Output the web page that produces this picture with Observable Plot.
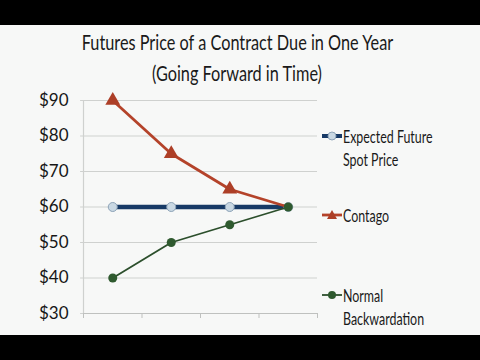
<!DOCTYPE html>
<html><head><meta charset="utf-8">
<script src="https://cdn.jsdelivr.net/npm/d3@7"></script>
<script src="https://cdn.jsdelivr.net/npm/@observablehq/plot@0.6"></script>
<style>
html,body{margin:0;padding:0;background:#000;width:480px;height:360px;overflow:hidden;}
#panel{position:absolute;left:0;top:25px;width:480px;height:310px;background:#f7f8f7;font-family:Lato,"Open Sans",sans-serif;color:#1a1a1a;}
.title{position:absolute;left:0;width:474px;text-align:center;font-size:22px;line-height:26px;white-space:nowrap;}
.title span{display:inline-block;transform:scaleX(0.74);transform-origin:center;}
#chart{position:absolute;left:0;top:0;}
.leg{position:absolute;left:322px;font-size:17px;line-height:23px;white-space:nowrap;}
.leg svg{position:absolute;left:0;top:5px;}
.leg .t{position:absolute;left:21px;top:0;transform:scaleX(0.73);transform-origin:left;}
</style></head>
<body>
<div id="panel">
  <div class="title" style="top:4px"><span>Futures Price of a Contract Due in One Year</span></div>
  <div class="title" style="top:35px"><span>(Going Forward in Time)</span></div>
  <div id="chart"></div>
  <div id="legend"></div>
</div>
<script>
const periods = [1, 2, 3, 4];
const expectedSpot = [60, 60, 60, 60];
const contango = [90, 75, 65, 60];
const backwardation = [40, 50, 55, 60];
const yTicks = [30, 40, 50, 60, 70, 80, 90];
const seriesNames = ["Expected Future Spot Price", "Contago", "Normal Backwardation"];

const rows = (vals, s) => periods.map((p, i) => ({p, v: vals[i], s}));
const blue = rows(expectedSpot, seriesNames[0]);
const red = rows(contango, seriesNames[1]);
const green = rows(backwardation, seriesNames[2]);

const chart = Plot.plot({
  width: 480, height: 310,
  marginTop: 75, marginBottom: 22, marginLeft: 83, marginRight: 163,
  style: {background: "transparent", fontFamily: "Lato, 'Open Sans', sans-serif"},
  x: {domain: [0.5, 4.5], axis: null},
  y: {domain: [30, 90], axis: null},
  marks: [
    Plot.ruleY(yTicks, {x1: 0.45, x2: 4.5, stroke: "#cfd1cf", strokeWidth: 1.2}),
    Plot.ruleX([0.5], {y1: 30, y2: 90, stroke: "#cfd1cf", strokeWidth: 1.2}),
    Plot.ruleY([30], {stroke: "#bfc1bf", strokeWidth: 1.2}),
    Plot.axisX({ticks: [0.5, 1.5, 2.5, 3.5, 4.5], tickSize: 5, tickFormat: () => "", stroke: "#bfc1bf", label: null}),
    Plot.axisY({ticks: yTicks, tickSize: 0, tickPadding: 15, tickFormat: d => "$" + d, fontSize: 17, fill: "#161616", label: null}),
    Plot.line(blue, {x: "p", y: "v", stroke: "#173a66", strokeWidth: 4.5}),
    Plot.dot(blue, {x: "p", y: "v", r: 4.5, fill: "#c9d8e3", stroke: "#8ea4b8", strokeWidth: 1}),
    Plot.line(red, {x: "p", y: "v", stroke: "#b4432a", strokeWidth: 2.8}),
    Plot.dot(red.slice(0, 3), {x: "p", y: "v", symbol: "triangle", r: 5.5, fill: "#ad3f27"}),
    Plot.line(green, {x: "p", y: "v", stroke: "#2c4f2c", strokeWidth: 1.8}),
    Plot.dot(green, {x: "p", y: "v", r: 4.5, fill: "#2f5a2f"})
  ]
});
document.getElementById("chart").append(chart);

const legItems = [
  {lines: ["Expected Future", "Spot Price"], top: 100, stroke: "#173a66", sw: 4, marker: "circle", mfill: "#c9d8e3", mstroke: "#8ea4b8"},
  {lines: ["Contago"], top: 179, stroke: "#b4432a", sw: 2.8, marker: "triangle", mfill: "#ad3f27", mstroke: "none"},
  {lines: ["Normal", "Backwardation"], top: 259, stroke: "#2c4f2c", sw: 1.8, marker: "circle", mfill: "#2f5a2f", mstroke: "none"}
];
const leg = document.getElementById("legend");
legItems.forEach(it => {
  const d = document.createElement("div");
  d.className = "leg";
  d.style.top = it.top + "px";
  const m = it.marker === "circle"
    ? `<circle cx="10" cy="6" r="4" fill="${it.mfill}" stroke="${it.mstroke}"/>`
    : `<path d="M10,1 L15,10 L5,10 Z" fill="${it.mfill}"/>`;
  d.innerHTML = `<svg width="20" height="12"><line x1="0" x2="20" y1="6" y2="6" stroke="${it.stroke}" stroke-width="${it.sw}"/>${m}</svg>` +
    it.lines.map((l, i) => `<div class="t" style="top:${i * 23}px">${l}</div>`).join("");
  leg.append(d);
});
</script>
</body></html>
